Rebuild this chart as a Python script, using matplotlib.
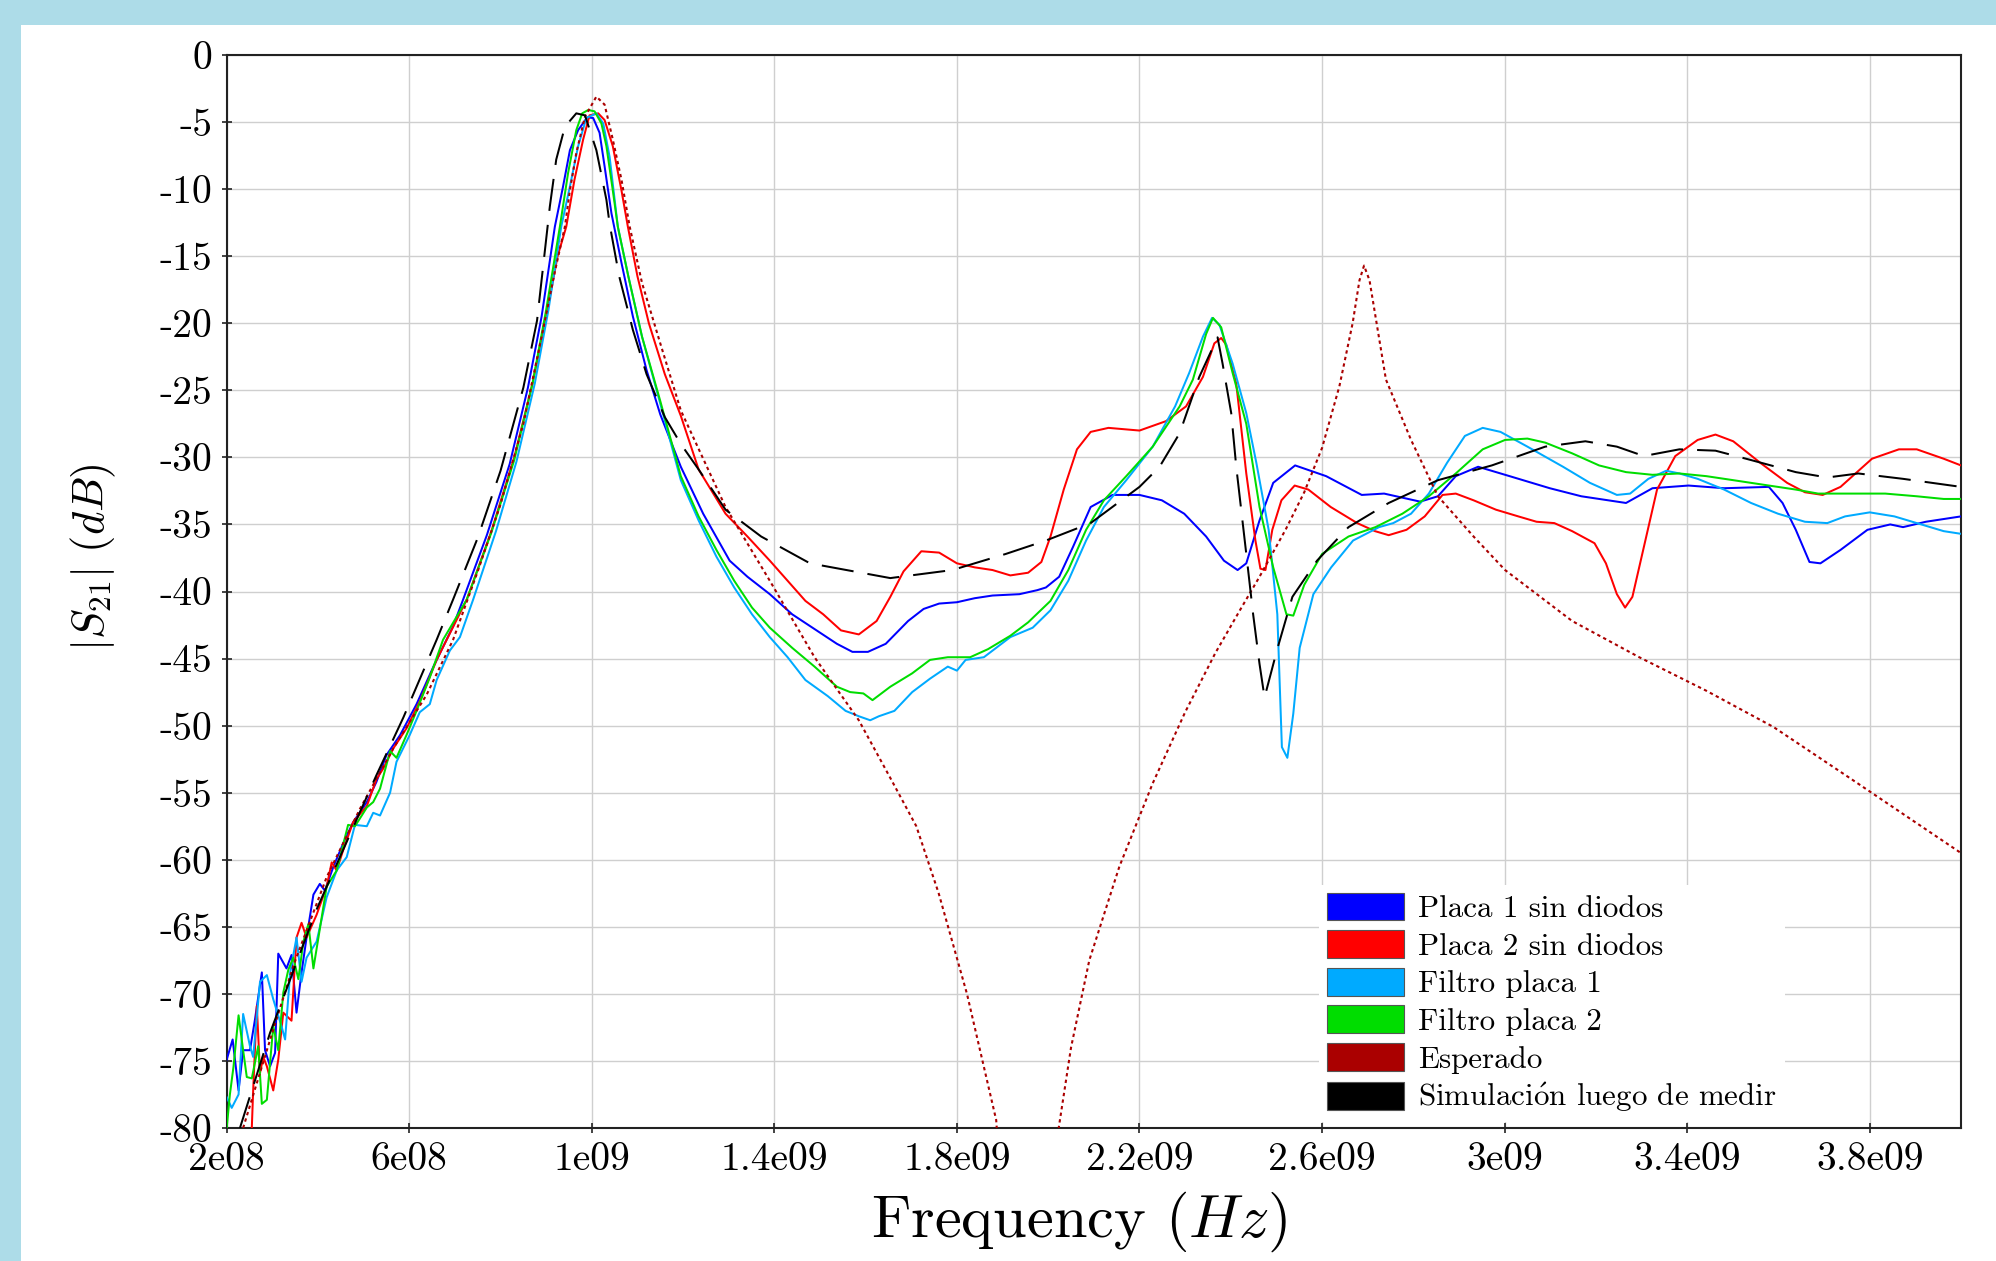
import matplotlib
matplotlib.use("Agg")
import matplotlib.pyplot as plt
from matplotlib.patches import Patch, Rectangle
import numpy as np

plt.rcParams['font.family'] = ['cmr10', 'DejaVu Serif']
plt.rcParams['mathtext.fontset'] = 'cm'
plt.rcParams['axes.unicode_minus'] = False

# ---------------- data (frequency in GHz, |S21| in dB) ----------------
placa1_f = [0.200, 0.213, 0.226, 0.236, 0.251, 0.262, 0.277, 0.284, 0.295, 0.306, 0.313, 0.331, 0.342,
            0.353, 0.364, 0.375, 0.390, 0.404, 0.415, 0.434, 0.455, 0.477, 0.507, 0.528, 0.550, 0.580,
            0.616, 0.653, 0.696, 0.718, 0.770, 0.820, 0.860, 0.890, 0.919, 0.937, 0.952, 0.970, 0.990,
            1.003, 1.017, 1.028, 1.043, 1.065, 1.090, 1.120, 1.150, 1.195, 1.244, 1.302, 1.341, 1.390,
            1.439, 1.488, 1.537, 1.571, 1.605, 1.644, 1.693, 1.727, 1.761, 1.800, 1.839, 1.878, 1.937,
            1.976, 1.995, 2.024, 2.054, 2.093, 2.141, 2.200, 2.249, 2.298, 2.346, 2.385, 2.415, 2.434,
            2.463, 2.493, 2.541, 2.609, 2.687, 2.736, 2.815, 2.854, 2.893, 2.942, 3.011, 3.099, 3.168,
            3.266, 3.324, 3.403, 3.481, 3.579, 3.609, 3.638, 3.668, 3.692, 3.736, 3.795, 3.845, 3.873,
            3.923, 4.000]
placa1_db = [-74.9, -73.4, -77.2, -74.2, -74.2, -71.9, -68.4, -74.2, -75.4, -74.4, -67.0, -68.1, -67.1,
             -71.4, -68.4, -65.8, -62.6, -61.8, -62.3, -60.5, -58.8, -57.2, -55.7, -54.2, -52.2, -50.7,
             -48.4, -45.6, -42.6, -40.6, -35.8, -30.5, -24.8, -19.5, -12.8, -9.8, -7.1, -5.6, -4.65,
             -4.7, -5.8, -8.3, -11.8, -15.5, -19.5, -23.5, -26.8, -30.7, -34.2, -37.7, -38.9, -40.2,
             -41.7, -42.8, -43.9, -44.5, -44.5, -43.9, -42.2, -41.3, -40.9, -40.8, -40.5, -40.3, -40.2,
             -39.9, -39.7, -38.9, -36.7, -33.7, -32.8, -32.8, -33.2, -34.2, -35.9, -37.7, -38.4, -37.9,
             -34.7, -31.9, -30.6, -31.4, -32.8, -32.7, -33.3, -32.9, -31.4, -30.7, -31.4, -32.3, -32.9,
             -33.4, -32.3, -32.1, -32.3, -32.2, -33.4, -35.4, -37.8, -37.9, -36.9, -35.4, -35.0, -35.2,
             -34.8, -34.4]

placa2_f = [0.255, 0.258, 0.266, 0.273, 0.280, 0.288, 0.302, 0.313, 0.324, 0.342, 0.353, 0.364, 0.375,
            0.397, 0.419, 0.430, 0.441, 0.455, 0.477, 0.507, 0.528, 0.543, 0.565, 0.594, 0.623, 0.660,
            0.704, 0.726, 0.780, 0.830, 0.870, 0.900, 0.925, 0.944, 0.962, 0.981, 0.995, 1.014, 1.028,
            1.046, 1.065, 1.079, 1.100, 1.125, 1.160, 1.195, 1.234, 1.293, 1.341, 1.390, 1.429, 1.468,
            1.507, 1.546, 1.585, 1.624, 1.654, 1.683, 1.722, 1.761, 1.800, 1.839, 1.878, 1.917, 1.956,
            1.985, 2.005, 2.034, 2.063, 2.093, 2.132, 2.200, 2.258, 2.302, 2.339, 2.364, 2.379, 2.390,
            2.412, 2.434, 2.454, 2.465, 2.476, 2.491, 2.511, 2.540, 2.570, 2.619, 2.677, 2.716, 2.746,
            2.785, 2.825, 2.864, 2.893, 2.932, 2.981, 3.030, 3.070, 3.109, 3.148, 3.197, 3.222, 3.246,
            3.264, 3.280, 3.305, 3.334, 3.374, 3.423, 3.462, 3.501, 3.560, 3.619, 3.658, 3.697, 3.736,
            3.805, 3.864, 3.903, 3.962, 4.000]
placa2_db = [-80.0, -77.2, -70.9, -75.9, -74.7, -75.4, -77.2, -74.9, -71.4, -72.0, -65.8, -64.7, -65.8,
             -64.1, -62.0, -60.2, -60.8, -59.3, -57.2, -56.0, -54.0, -53.2, -51.7, -50.2, -48.2, -45.1,
             -42.1, -40.6, -35.5, -30.0, -24.5, -19.5, -15.0, -12.8, -9.3, -6.3, -4.5, -4.35, -4.85,
             -6.8, -10.1, -12.8, -16.5, -20.0, -23.8, -26.9, -30.9, -34.2, -35.9, -37.7, -39.2, -40.7,
             -41.7, -42.9, -43.2, -42.2, -40.4, -38.5, -37.0, -37.1, -37.9, -38.2, -38.4, -38.8, -38.6,
             -37.8, -35.9, -32.4, -29.4, -28.1, -27.8, -28.0, -27.3, -26.2, -24.0, -21.5, -21.1, -21.6,
             -24.5, -31.2, -36.2, -38.3, -38.4, -35.4, -33.2, -32.1, -32.4, -33.7, -34.9, -35.5, -35.8,
             -35.4, -34.4, -32.8, -32.7, -33.2, -33.9, -34.4, -34.8, -34.9, -35.5, -36.4, -37.9, -40.2,
             -41.2, -40.4, -36.7, -32.4, -29.9, -28.7, -28.3, -28.8, -30.4, -31.9, -32.6, -32.8, -32.2,
             -30.1, -29.4, -29.4, -30.1, -30.6]

filtro1_f = [0.200, 0.211, 0.226, 0.236, 0.251, 0.258, 0.273, 0.288, 0.302, 0.320, 0.328, 0.339, 0.353,
             0.364, 0.375, 0.397, 0.419, 0.441, 0.463, 0.481, 0.507, 0.521, 0.536, 0.558, 0.572, 0.601,
             0.623, 0.645, 0.660, 0.689, 0.711, 0.740, 0.790, 0.835, 0.875, 0.905, 0.933, 0.952, 0.970,
             0.988, 1.010, 1.025, 1.039, 1.057, 1.080, 1.110, 1.150, 1.195, 1.234, 1.273, 1.312, 1.351,
             1.390, 1.429, 1.468, 1.517, 1.556, 1.585, 1.610, 1.629, 1.663, 1.702, 1.741, 1.780, 1.800,
             1.819, 1.859, 1.917, 1.966, 2.005, 2.044, 2.083, 2.122, 2.171, 2.229, 2.278, 2.309, 2.339,
             2.359, 2.375, 2.404, 2.434, 2.456, 2.483, 2.502, 2.512, 2.524, 2.537, 2.551, 2.581, 2.620,
             2.668, 2.725, 2.756, 2.795, 2.834, 2.874, 2.913, 2.952, 2.991, 3.050, 3.128, 3.187, 3.246,
             3.275, 3.315, 3.354, 3.383, 3.423, 3.481, 3.540, 3.599, 3.658, 3.707, 3.746, 3.800, 3.854,
             3.913, 3.962, 4.000]
filtro1_db = [-77.7, -78.5, -77.5, -71.5, -73.9, -74.7, -69.1, -68.6, -70.4, -72.4, -73.4, -68.4, -65.8,
              -69.1, -67.3, -66.1, -62.8, -60.8, -59.8, -57.4, -57.5, -56.5, -56.7, -55.0, -52.7, -50.7,
              -49.0, -48.4, -46.6, -44.4, -43.4, -40.6, -35.5, -30.3, -24.5, -19.0, -12.8, -9.8, -6.8,
              -4.7, -4.35, -5.1, -7.6, -12.8, -16.5, -21.0, -26.0, -31.7, -34.7, -37.4, -39.7, -41.7,
              -43.4, -44.9, -46.6, -47.8, -48.9, -49.3, -49.6, -49.3, -48.9, -47.5, -46.5, -45.6, -45.9,
              -45.1, -44.9, -43.4, -42.7, -41.4, -39.2, -36.2, -33.7, -31.7, -29.2, -26.2, -23.7, -21.0,
              -19.6, -20.1, -23.0, -26.7, -30.4, -35.4, -41.7, -51.6, -52.4, -49.1, -44.2, -40.2, -38.2,
              -36.2, -35.2, -34.9, -34.2, -32.7, -30.4, -28.4, -27.8, -28.1, -29.2, -30.7, -31.9, -32.8,
              -32.7, -31.6, -31.0, -31.2, -31.6, -32.4, -33.4, -34.2, -34.8, -34.9, -34.4, -34.1, -34.4,
              -35.0, -35.5, -35.7]

filtro2_f = [0.200, 0.207, 0.215, 0.226, 0.236, 0.244, 0.255, 0.269, 0.277, 0.288, 0.302, 0.313, 0.324,
             0.335, 0.346, 0.357, 0.368, 0.379, 0.390, 0.401, 0.419, 0.441, 0.466, 0.481, 0.496, 0.507,
             0.521, 0.536, 0.558, 0.572, 0.594, 0.616, 0.645, 0.674, 0.726, 0.780, 0.830, 0.870, 0.900,
             0.930, 0.948, 0.966, 0.979, 0.992, 1.006, 1.021, 1.032, 1.046, 1.057, 1.080, 1.110, 1.150,
             1.195, 1.234, 1.273, 1.312, 1.351, 1.390, 1.439, 1.488, 1.537, 1.566, 1.595, 1.615, 1.654,
             1.702, 1.741, 1.780, 1.829, 1.868, 1.917, 1.956, 2.005, 2.044, 2.083, 2.122, 2.171, 2.229,
             2.288, 2.317, 2.346, 2.361, 2.379, 2.404, 2.434, 2.463, 2.493, 2.522, 2.537, 2.561, 2.600,
             2.658, 2.717, 2.776, 2.834, 2.893, 2.952, 3.001, 3.050, 3.089, 3.148, 3.207, 3.266, 3.324,
             3.383, 3.442, 3.501, 3.579, 3.638, 3.687, 3.756, 3.834, 3.903, 3.962, 4.000]
filtro2_db = [-80.0, -77.5, -75.4, -71.6, -74.2, -76.2, -76.3, -73.9, -78.2, -77.9, -72.4, -74.2, -69.9,
              -68.2, -67.3, -68.9, -66.1, -64.8, -68.1, -65.8, -62.0, -60.8, -57.4, -57.5, -56.7, -56.1,
              -55.7, -54.7, -51.9, -52.4, -50.7, -48.9, -46.4, -43.6, -40.6, -35.6, -30.2, -24.5, -19.0,
              -12.8, -8.8, -5.6, -4.35, -4.1, -4.2, -5.1, -6.8, -10.1, -12.8, -16.5, -21.0, -25.8,
              -31.4, -34.4, -36.9, -39.2, -41.2, -42.7, -44.2, -45.6, -47.1, -47.5, -47.6, -48.1, -47.1,
              -46.1, -45.1, -44.9, -44.9, -44.3, -43.3, -42.3, -40.7, -38.4, -35.4, -33.2, -31.4, -29.2,
              -26.2, -24.2, -20.8, -19.6, -20.3, -23.7, -27.5, -33.7, -38.2, -41.7, -41.8, -39.5, -37.2,
              -35.9, -35.2, -34.2, -32.9, -31.2, -29.4, -28.7, -28.6, -28.9, -29.7, -30.6, -31.1, -31.3,
              -31.2, -31.4, -31.7, -32.1, -32.4, -32.7, -32.7, -32.7, -32.9, -33.1, -33.1]

esperado_f = [0.236, 0.288, 0.346, 0.419, 0.492, 0.565, 0.638, 0.696, 0.750, 0.800, 0.850, 0.890, 0.920,
              0.941, 0.952, 0.966, 0.985, 1.010, 1.028, 1.046, 1.065, 1.083, 1.110, 1.150, 1.195, 1.293,
              1.390, 1.488, 1.585, 1.654, 1.711, 1.760, 1.822, 1.886, 1.950, 2.023, 2.050, 2.090, 2.156,
              2.229, 2.300, 2.366, 2.420, 2.463, 2.520, 2.561, 2.600, 2.638, 2.667, 2.682, 2.692, 2.704,
              2.740, 2.795, 2.854, 2.932, 3.001, 3.148, 3.295, 3.442, 3.589, 3.756, 4.000]
esperado_db = [-80.0, -74.2, -67.9, -61.3, -56.2, -51.7, -47.7, -43.6, -38.5, -33.5, -27.5, -21.0, -16.0,
               -12.8, -10.1, -7.3, -4.6, -3.1, -3.7, -6.3, -9.3, -12.8, -17.0, -21.5, -26.5, -33.7,
               -39.2, -44.9, -49.6, -53.9, -57.5, -62.5, -70.0, -79.4, -110.0, -80.0, -74.0, -67.5, -60.5,
               -54.3, -49.0, -44.6, -41.4, -38.9, -35.4, -32.6, -29.3, -24.7, -20.0, -16.8, -15.7, -16.8,
               -24.2, -28.7, -32.9, -35.9, -38.4, -42.2, -44.9, -47.4, -50.1, -53.9, -59.5]

simulacion_f = [0.229, 0.295, 0.397, 0.528, 0.587, 0.660, 0.696, 0.750, 0.800, 0.850, 0.880, 0.908, 0.922,
                0.941, 0.966, 0.985, 1.010, 1.032, 1.039, 1.060, 1.090, 1.120, 1.160, 1.195, 1.234, 1.293,
                1.371, 1.478, 1.654, 1.790, 1.907, 1.995, 2.093, 2.200, 2.244, 2.288, 2.331, 2.371, 2.382,
                2.401, 2.412, 2.434, 2.449, 2.463, 2.474, 2.501, 2.535, 2.589, 2.658, 2.746, 2.854, 2.972,
                3.089, 3.177, 3.246, 3.305, 3.383, 3.462, 3.540, 3.638, 3.707, 3.775, 3.873, 4.000]
simulacion_db = [-80.0, -72.9, -63.7, -53.7, -49.4, -43.6, -40.6, -36.0, -31.0, -24.8, -19.8, -11.3, -7.8,
                 -5.35, -4.35, -4.5, -7.1, -10.8, -12.6, -16.5, -20.5, -23.8, -27.0, -29.0, -30.9, -33.9,
                 -35.9, -37.9, -39.0, -38.4, -37.2, -36.2, -34.9, -32.2, -30.7, -28.2, -24.0, -21.05, -23.0,
                 -26.7, -30.7, -37.2, -41.7, -45.4, -47.9, -44.4, -40.4, -37.7, -35.2, -33.4, -31.7, -30.6,
                 -29.2, -28.8, -29.2, -29.9, -29.4, -29.5, -30.2, -31.1, -31.5, -31.2, -31.6, -32.2]

labels = ["Placa 1 sin diodos", "Placa 2 sin diodos", "Filtro placa 1", "Filtro placa 2",
          "Esperado", r"Simulaci$\mathrm{\acute{o}}$n luego de medir"]
colors = ["#0000FF", "#FF0000", "#00AAFF", "#00DD00", "#AA0000", "#000000"]
xticks_hz = [2e8, 6e8, 1e9, 1.4e9, 1.8e9, 2.2e9, 2.6e9, 3e9, 3.4e9, 3.8e9]
xtick_labels = ["2e08", "6e08", "1e09", "1.4e09", "1.8e09", "2.2e09", "2.6e09", "3e09", "3.4e09", "3.8e09"]
yticks = [0, -5, -10, -15, -20, -25, -30, -35, -40, -45, -50, -55, -60, -65, -70, -75, -80]

# ---------------- figure ----------------
W, H = 1996, 1261
fig = plt.figure(figsize=(W / 100, H / 100), dpi=100, facecolor="white")
# light-blue frame
fig.patches.append(Rectangle((0, 1 - 25 / H), 1, 25 / H, transform=fig.transFigure,
                             facecolor="#ADDCE8", edgecolor="none", zorder=0))
fig.patches.append(Rectangle((0, 0), 21 / W, 1, transform=fig.transFigure,
                             facecolor="#ADDCE8", edgecolor="none", zorder=0))

ax = fig.add_axes([226.7 / W, 1 - 1128 / H, (1961 - 226.7) / W, (1128 - 55) / H])

ghz = 1e9
series = [(placa1_f, placa1_db), (placa2_f, placa2_db), (filtro1_f, filtro1_db), (filtro2_f, filtro2_db)]
for (f, d), c in zip(series, colors[:4]):
    ax.plot(np.array(f) * ghz, d, color=c, lw=1.45, zorder=3)
ax.plot(np.array(esperado_f) * ghz, esperado_db, color=colors[4], lw=1.5, ls=(0, (1.6, 1.6)), zorder=4)
ax.plot(np.array(simulacion_f) * ghz, simulacion_db, color=colors[5], lw=1.45, ls=(0, (16, 7)), zorder=4)

ax.set_xlim(2e8, 4e9)
ax.set_ylim(-80, 0)
ax.set_xticks(xticks_hz)
ax.set_xticklabels(xtick_labels)
ax.set_yticks(yticks)
ax.set_yticklabels([str(v) for v in yticks])
ax.grid(True, color="#cfcfcf", lw=1.0)
ax.set_axisbelow(True)
ax.tick_params(direction="inout", length=7, width=1.2, labelsize=28.5, pad=7, colors="#222222",
               labelcolor="black")
for s in ax.spines.values():
    s.set_linewidth(1.5)
    s.set_color("#222222")

ax.set_xlabel(r"Frequency $(Hz)$", fontsize=43.5)
ax.xaxis.set_label_coords(0.4914, -0.057)
ax.set_ylabel(r"$|S_{21}|\ (dB)$", fontsize=32)
ax.yaxis.set_label_coords(-0.0627, 0.5316)

handles = [Patch(facecolor=c, edgecolor="#555555", lw=0.8) for c in colors]
leg = ax.legend(handles, labels, loc="upper left", bbox_to_anchor=(0.630, 0.2265), fontsize=22.3,
                frameon=True, fancybox=False, framealpha=1.0, edgecolor="none", facecolor="white",
                handlelength=2.5, handleheight=1.0, handletextpad=0.45, labelspacing=0.23,
                borderpad=0.25, borderaxespad=0.0)
leg.set_zorder(10)

fig.savefig("out.png", dpi=100, facecolor="white")
